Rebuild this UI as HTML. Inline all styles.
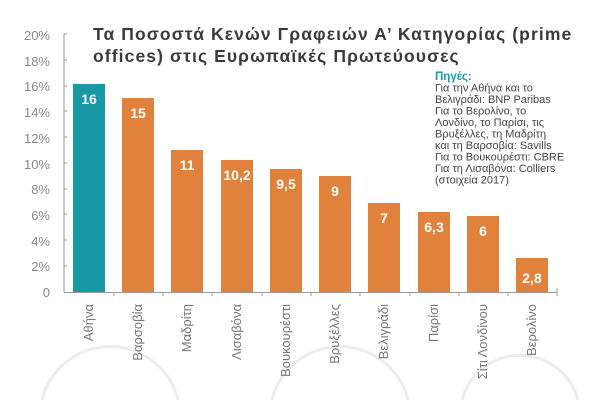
<!DOCTYPE html>
<html><head><meta charset="utf-8"><style>
html,body{margin:0;padding:0;background:#fff;width:600px;height:402px;overflow:hidden;}
svg{display:block;font-family:"Liberation Sans","DejaVu Sans",sans-serif;}
</style></head><body>
<svg width="600" height="402" viewBox="0 0 600 402">
<g fill="none" stroke="#ececec" stroke-width="3">
<path d="M42 400A70 70 0 0 1 178 400"/><path d="M272 400A70 70 0 0 1 408 400"/><path d="M462 400A60 60 0 0 1 578 400"/>
</g>
<g fill="#888" font-size="13" text-anchor="end">
<text x="50" y="40">20%</text><text x="50" y="66">18%</text><text x="50" y="91">16%</text>
<text x="50" y="117">14%</text><text x="50" y="143">12%</text><text x="50" y="169">10%</text>
<text x="50" y="194">8%</text><text x="50" y="220">6%</text><text x="50" y="246">4%</text>
<text x="50" y="271">2%</text><text x="50" y="297">0</text>
</g>
<path d="M64 34H67M64 34V292M64 60H67M64 86H67M64 111H67M64 137H67M64 163H67M64 189H67M64 214H67M64 240H67M64 266H67" stroke="#999" stroke-width="1" fill="none"/>
<line x1="64" y1="292.5" x2="557" y2="292.5" stroke="#999"/>
<g stroke="#999"><line x1="114" y1="292" x2="114" y2="296"/><line x1="163" y1="292" x2="163" y2="296"/><line x1="212" y1="292" x2="212" y2="296"/><line x1="262" y1="292" x2="262" y2="296"/><line x1="311" y1="292" x2="311" y2="296"/><line x1="360" y1="292" x2="360" y2="296"/><line x1="410" y1="292" x2="410" y2="296"/><line x1="459" y1="292" x2="459" y2="296"/><line x1="508" y1="292" x2="508" y2="296"/><line x1="557" y1="288" x2="557" y2="296"/></g>
<rect x="73" y="84" width="32" height="208" fill="#1799a6"/>
<g fill="#e0823b">
<rect x="122" y="98" width="32" height="194"/><rect x="171" y="150" width="32" height="142"/>
<rect x="221" y="160" width="32" height="132"/><rect x="270" y="169" width="32" height="123"/>
<rect x="319" y="176" width="32" height="116"/><rect x="368" y="203" width="32" height="89"/>
<rect x="418" y="212" width="32" height="80"/><rect x="467" y="216" width="32" height="76"/>
<rect x="516" y="258" width="32" height="34"/>
</g>
<g fill="#fff" font-size="14" font-weight="bold" text-anchor="middle">
<text x="89" y="104">16</text><text x="138" y="118">15</text><text x="187" y="170">11</text>
<text x="237" y="180">10,2</text><text x="286" y="189">9,5</text><text x="335" y="196">9</text>
<text x="384" y="223">7</text><text x="434" y="232">6,3</text><text x="483" y="236">6</text>
<text x="532" y="283">2,8</text>
</g>
<g fill="#777" font-size="13" text-anchor="end">
<text transform="translate(93,304) rotate(-90)">Αθήνα</text>
<text transform="translate(142,304) rotate(-90)">Βαρσοβία</text>
<text transform="translate(191,304) rotate(-90)">Μαδρίτη</text>
<text transform="translate(241,304) rotate(-90)">Λισαβόνα</text>
<text transform="translate(290,304) rotate(-90)">Βουκουρέστι</text>
<text transform="translate(339,304) rotate(-90)">Βρυξέλλες</text>
<text transform="translate(388,304) rotate(-90)">Βελιγράδι</text>
<text transform="translate(438,304) rotate(-90)">Παρίσι</text>
<text transform="translate(487,304) rotate(-90)">Σίτι Λονδίνου</text>
<text transform="translate(536,304) rotate(-90)">Βερολίνο</text>
</g>
<g fill="#3a3a3a" font-size="17.5" font-weight="bold" letter-spacing="1.1">
<text x="93" y="40">Τα Ποσοστά Κενών Γραφειών Α’ Κατηγορίας (prime</text>
<text x="93" y="62">offices) στις Ευρωπαϊκές Πρωτεύουσες</text>
</g>
<text x="435" y="80" fill="#1a9ba8" font-size="11.5" font-weight="bold">Πηγές:</text>
<g fill="#444" font-size="11">
<text x="435" y="91.5">Για την Αθήνα και το</text>
<text x="435" y="103">Βελιγράδι: BNP Paribas</text>
<text x="435" y="114.5">Για το Βερολίνο, το</text>
<text x="435" y="126">Λονδίνο, το Παρίσι, τις</text>
<text x="435" y="137.5">Βρυξέλλες, τη Μαδρίτη</text>
<text x="435" y="149">και τη Βαρσοβία: Savills</text>
<text x="435" y="160.5">Για το Βουκουρέστι: CBRE</text>
<text x="435" y="172">Για τη Λισαβόνα: Colliers</text>
<text x="435" y="183.5">(στοιχεία 2017)</text>
</g>
</svg>
</body></html>
